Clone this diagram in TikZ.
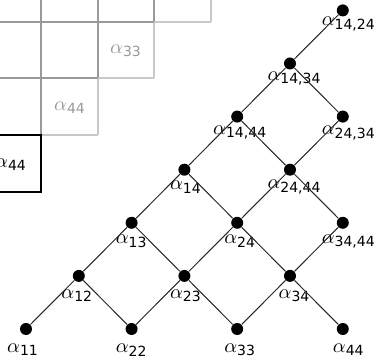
\documentclass[tikz,border=0pt]{standalone}
\usepackage{fontspec}
\setsansfont{DejaVu Sans}
\newcommand\lab[1]{{\sffamily$\alpha$\textsubscript{#1}}}
\definecolor{gdark}{HTML}{9A9A9A}
\definecolor{glight}{HTML}{C8C8C8}
\definecolor{gtext}{HTML}{999999}
\tikzset{
  dot/.style={circle,fill=black,inner sep=0pt,minimum size=6pt},
  lbl/.style={inner sep=0pt,anchor=center},
  edge/.style={draw=black!85,line width=0.5pt},
  gd/.style={draw=gdark,line width=0.75pt},
  gl/.style={draw=glight,line width=0.75pt},
  bbox/.style={draw=black,line width=1pt}
}
\begin{document}
\begin{tikzpicture}[x=0.5pt,y=-0.5pt]
\useasboundingbox (0,0) rectangle (377,358);
\clip (0,0) rectangle (377,358);
% grid
\draw[gd] (41,0) -- (41,135);
\draw[gd] (98,0) -- (98,78);
\draw[gl] (98,78) -- (98,135);
\draw[gd] (154,0) -- (154,22);
\draw[gl] (154,22) -- (154,78);
\draw[gl] (211,0) -- (211,22);
\draw[gd] (-5,22) -- (154,22);
\draw[gl] (154,22) -- (211,22);
\draw[gd] (-5,78) -- (98,78);
\draw[gl] (98,78) -- (154,78);
\draw[gl] (41,135) -- (98,135);
\draw[bbox] (-5,135) -- (41,135) -- (41,192) -- (-5,192);
\node[lbl,text=gtext] (g33) at (126,51) {\lab{33}};
\node[lbl,text=gtext] (g44) at (70,108) {\lab{44}};
\node[lbl] (b44) at (11,165) {\lab{44}};
% dots and labels
\foreach \n/\x/\k/\t in {a11/0/0/11,a22/2/0/22,a33/4/0/33,a44/6/0/44,
  a12/1/1/12,a23/3/1/23,a34/5/1/34,
  a13/2/2/13,a24/4/2/24,a3444/6/2/{34,44},
  a14/3/3/14,a2444/5/3/{24,44},
  a1444/4/4/{14,44},a2434/6/4/{24,34},
  a1434/5/5/{14,34},
  a1424/6/6/{14,24}}{
  \node[dot] (\n) at ({26+52.8*\x},{329-53.1*\k}) {};
  \node[lbl] (l\n) at ({23+54.3*\x},{350-54.3*\k}) {\lab{\t}};
}
\foreach \a/\b in {a11/a12,a12/a22,a12/a13,a22/a23,a13/a23,a13/a14,a23/a33,a23/a24,
  a14/a24,a14/a1444,a24/a34,a24/a2444,a33/a34,a34/a44,a34/a3444,a2444/a3444,
  a1444/a2444,a2444/a2434,a1444/a1434,a2434/a1434,a1434/a1424}{
  \draw[edge] (\a) -- (\b);
}
\end{tikzpicture}
\end{document}
